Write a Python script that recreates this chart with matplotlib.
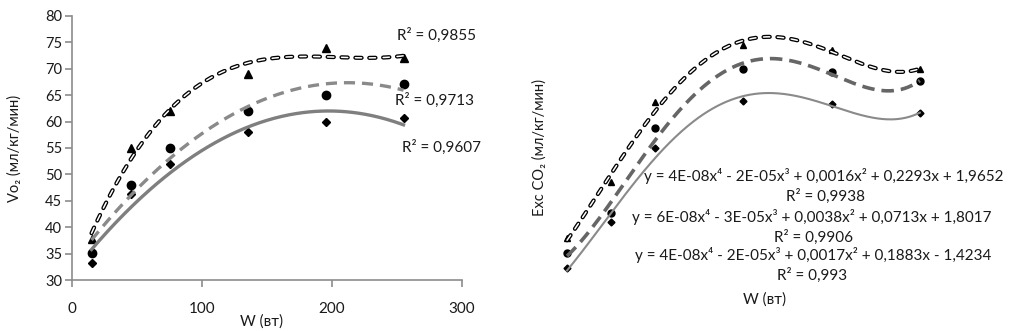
import matplotlib
matplotlib.use("Agg")

import matplotlib.pyplot as plt
import numpy as np

plt.rcParams["font.family"] = ["Lato", "DejaVu Sans"]
plt.rcParams["lines.scale_dashes"] = False

# нагрузка, Вт
W = [15, 45, 75, 135, 195, 255]

# VO2, мл/кг/мин
vo2_tri = [37.7, 55, 62, 69, 74, 72]
vo2_cir = [35.2, 48, 55, 62, 65, 67.2]
vo2_dia = [33.2, 46.2, 52, 58, 60, 60.6]
vo2_r2 = ["R² = 0,9855", "R² = 0,9713", "R² = 0,9607"]

# избыток CO2, мл/кг/мин
co2_tri = [4.9, 10.5, 18.5, 24.2, 23.7, 21.8]
co2_cir = [3.4, 7.4, 15.9, 21.8, 21.5, 20.6]
co2_dia = [1.9, 6.5, 13.9, 18.6, 18.3, 17.4]
co2_eq = [
    "y = 4E-08x⁴ - 2E-05x³ + 0,0016x² + 0,2293x + 1,9652",
    "R² = 0,9938",
    "y = 6E-08x⁴ - 3E-05x³ + 0,0038x² + 0,0713x + 1,8017",
    "R² = 0,9906",
    "y = 4E-08x⁴ - 2E-05x³ + 0,0017x² + 0,1883x - 1,4234",
    "R² = 0,993",
]

FW, FH = 1016, 331


def fx(px):
    return px / FW


def fy(py):
    return 1 - py / FH


def trend(ax, x, y, deg, **kw):
    xs = np.linspace(min(x), max(x), 300)
    ys = np.polyval(np.polyfit(x, y, deg), xs)
    ax.plot(xs, ys, **kw)


def outlined_dash(ax, x, y, deg, lw_out=3.0, lw_in=1.1):
    ls = (0, (4.5, 5.5))
    trend(ax, x, y, deg, color="black", lw=lw_out, linestyle=ls,
          dash_capstyle="round", zorder=4)
    trend(ax, x, y, deg, color="white", lw=lw_in, linestyle=ls,
          dash_capstyle="round", zorder=5)


fig = plt.figure(figsize=(FW / 100, FH / 100), dpi=100)

# --- левая панель: VO2 ---
ax1 = fig.add_axes([fx(72), fy(280), fx(462) - fx(72), fy(16) - fy(280)])
ax1.plot(W, vo2_tri, "^", color="black", ms=5.5, zorder=3)
ax1.plot(W, vo2_cir, "o", color="black", ms=6, zorder=3)
ax1.plot(W, vo2_dia, "D", color="black", ms=4, zorder=3)
outlined_dash(ax1, W, vo2_tri, 3)
trend(ax1, W, vo2_cir, 2, color="#8a8a8a", lw=2.4,
      linestyle=(0, (8, 5)), zorder=4)
trend(ax1, W, vo2_dia, 2, color="#7f7f7f", lw=2.4, zorder=4)

ax1.set_xlim(0, 300)
ax1.set_ylim(30, 80)
ax1.set_xticks([0, 100, 200, 300])
ax1.set_yticks(range(30, 81, 5))
for s in ["top", "right"]:
    ax1.spines[s].set_visible(False)
for s in ["left", "bottom"]:
    ax1.spines[s].set_color("#8c8c8c")
    ax1.spines[s].set_linewidth(1.2)
ax1.tick_params(axis="both", colors="#8c8c8c", length=5, width=1.2)
ax1.tick_params(axis="y", labelsize=10.5, labelcolor="#1a1a1a", pad=2)
ax1.tick_params(axis="x", labelsize=11, labelcolor="#1a1a1a", pad=11)

fig.text(fx(262), fy(322), "W (вт)", fontsize=11, ha="center", va="center",
         color="#1a1a1a")
fig.text(fx(15), fy(148), "Vo₂ (мл/кг/мин)", fontsize=10.5, rotation=90,
         ha="center", va="center", color="#1a1a1a")

for txt, (px, py) in zip(vo2_r2, [(397, 35), (395, 100), (402, 147)]):
    fig.text(fx(px), fy(py), txt, fontsize=11, ha="left", va="center",
             color="#1a1a1a")

# --- правая панель: Exc CO2 ---
ax2 = fig.add_axes([fx(545), fy(287), fx(986) - fx(545), fy(7) - fy(287)])
ax2.plot(W, co2_tri, "^", color="black", ms=5, zorder=3)
ax2.plot(W, co2_cir, "o", color="black", ms=5, zorder=3)
ax2.plot(W, co2_dia, "D", color="black", ms=3.5, zorder=3)
outlined_dash(ax2, W, co2_tri, 4)
trend(ax2, W, co2_cir, 4, color="#666666", lw=2.6,
      linestyle=(0, (9, 5)), zorder=4)
trend(ax2, W, co2_dia, 4, color="#8a8a8a", lw=1.5, zorder=4)
ax2.set_xlim(0, 300)
ax2.set_ylim(0, 28)
ax2.axis("off")

eq_pos = [(824, 176), (825, 196), (812, 217), (813, 237), (813, 255),
          (812, 275)]
for txt, (px, py) in zip(co2_eq, eq_pos):
    fig.text(fx(px), fy(py), txt, fontsize=11, ha="center", va="center",
             color="#1a1a1a")

fig.text(fx(765), fy(300), "W (вт)", fontsize=11, ha="center", va="center",
         color="#1a1a1a")
fig.text(fx(540), fy(147), "Exc CO₂ (мл/кг/мин)", fontsize=10.5,
         rotation=90, ha="center", va="center", color="#1a1a1a")

fig.savefig("out.png", dpi=100)
